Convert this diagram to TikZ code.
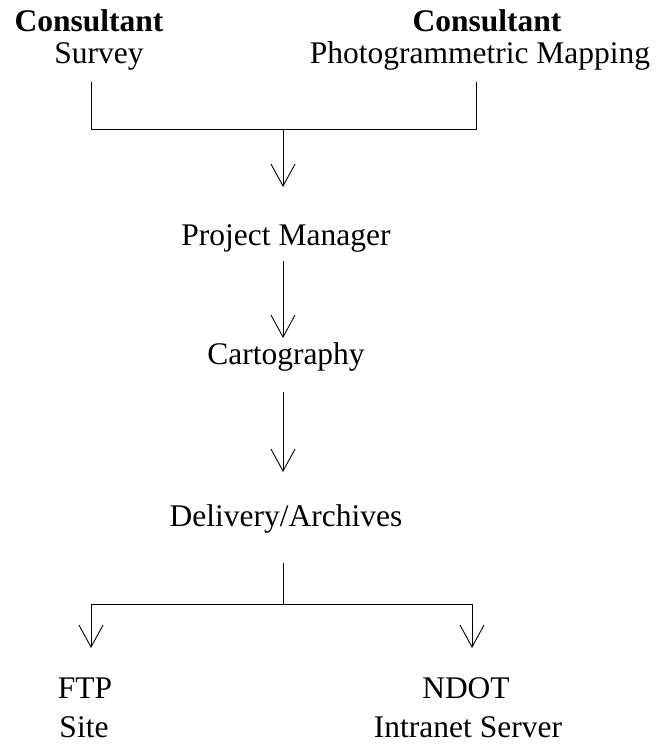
\documentclass[tikz,border=0pt]{standalone}
\usepackage{fontspec}
\setmainfont{Liberation Serif}
\usetikzlibrary{arrows.meta}
\begin{document}
\begin{tikzpicture}[x=1pt,y=-1pt,
  lbl/.style={inner sep=0pt, anchor=base, font=\fontsize{31.5}{36}\selectfont},
  hd/.style={lbl, font=\fontsize{31.5}{36}\selectfont\bfseries},
  wire/.style={line width=0.9pt, black},
  flow/.style={wire, -{Straight Barb[length=22pt,width=24pt,line width=0.9pt]}}]
  \useasboundingbox (0,0) rectangle (657,749);
  % consultants
  \node[hd]  (cL) at (89,32)  {Consultant};
  \node[lbl] (sv) at (99,64)  {Survey};
  \node[hd]  (cR) at (487,32) {Consultant};
  \node[lbl] (pm) at (480,64) {Photogrammetric Mapping};
  % main chain
  \node[lbl] (mgr)  at (286,245) {Project Manager};
  \node[lbl] (cart) at (286,364) {Cartography};
  \node[lbl] (del)  at (286,526) {Delivery/Archives};
  % outputs
  \node[lbl] (ftp)  at (85,698)  {FTP};
  \node[lbl] (site) at (84,737)  {Site};
  \node[lbl] (ndot) at (466,698) {NDOT};
  \node[lbl] (srv)  at (468,737) {Intranet Server};
  % junction points
  \coordinate (svB) at (91,82);
  \coordinate (pmB) at (476,82);
  \coordinate (jL)  at (91,129);
  \coordinate (jR)  at (476,129);
  \coordinate (jM)  at (283,129);
  \coordinate (mgrT) at (283,187);
  \coordinate (mgrB) at (283,261);
  \coordinate (cartT) at (283,338);
  \coordinate (cartB) at (283,392);
  \coordinate (delT) at (283,472);
  \coordinate (delB) at (283,563);
  \coordinate (sM) at (283,604);
  \coordinate (sL) at (91,604);
  \coordinate (sR) at (472,604);
  \coordinate (ftpT) at (91,648);
  \coordinate (ndotT) at (472,648);
  % connectors
  \draw[wire] (svB) -- (jL) -- (jR) -- (pmB);
  \draw[flow] (jM) -- (mgrT);
  \draw[flow] (mgrB) -- (cartT);
  \draw[flow] (cartB) -- (delT);
  \draw[wire] (delB) -- (sM);
  \draw[wire] (sL) -- (sR);
  \draw[flow] (sL) -- (ftpT);
  \draw[flow] (sR) -- (ndotT);
\end{tikzpicture}
\end{document}
